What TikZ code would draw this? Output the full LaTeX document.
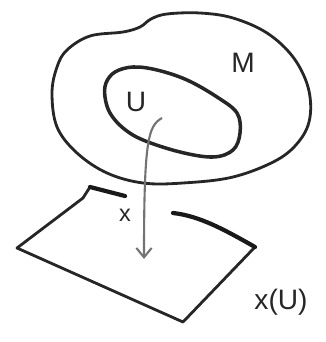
\documentclass[tikz,border=0pt]{standalone}
\usepackage{fontspec}
\setmainfont{Liberation Sans}
\usetikzlibrary{arrows.meta}

\begin{document}
\begin{tikzpicture}[
  x=0.03cm, y=-0.03cm,
  pen/.style = {draw=black!85, line width=2.4pt, line cap=round, line join=round},
  edge/.style = {draw=black!90, line width=3.6pt, line cap=round},
  lbl/.style = {font=\fontsize{24}{26}\selectfont, text=black!85},
  arr/.style = {draw=black!55, line width=1.8pt,
                -{Straight Barb[length=8pt,width=13pt,line width=1.8pt]}}
]
  \useasboundingbox (0,0) rectangle (325,342);

  % manifold M
  \draw[pen] plot[smooth cycle, tension=0.6] coordinates {
    (67,50) (90,36) (123,32) (140,27) (151,19) (167,14) (200,13) (233,18)
    (267,33) (293,57) (308,87) (310,117) (300,140) (277,160) (233,177)
    (183,183) (143,183) (107,173) (77,153) (57,127) (52,93) (57,67)};
  \node[lbl] (m) at (243,63) {M};

  % chart domain U
  \draw[pen, line width=3pt] plot[smooth cycle, tension=0.6] coordinates {
    (115,72) (133,67) (157,70) (187,80) (217,97) (237,113) (240,133)
    (233,150) (213,157) (180,152) (143,140) (123,128) (110,113) (105,97)
    (106,83)};
  \node[lbl] (u) at (136,102) {U};

  % image plane x(U)
  \draw[pen] (83,198) -- (17,248) -- (183,322) -- (255,247);
  \draw[pen] (90,187) -- (83,198);
  \draw[edge] (90,187) -- (125,196);
  \draw[edge] (173,213) .. controls (200,216) and (225,230) .. (255,247);
  \node[lbl, font=\fontsize{20}{22}\selectfont] (pt) at (125,215) {x};
  \node[lbl] (img) at (281,302) {x(U)};

  % the chart map
  \coordinate (tail) at (162,118);
  \coordinate (head) at (144,259);
  \draw[arr] (tail) .. controls (148,126) and (144,140) .. (head);
\end{tikzpicture}
\end{document}
